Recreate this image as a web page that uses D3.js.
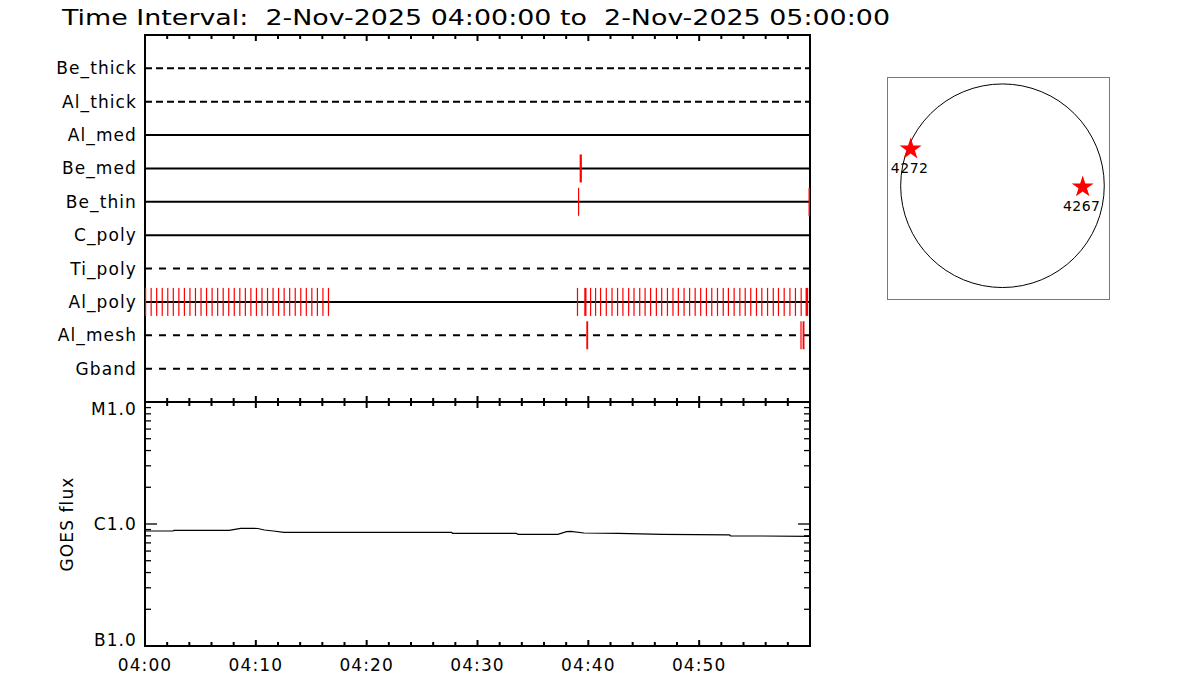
<!DOCTYPE html>
<html>
<head>
<meta charset="utf-8">
<script src="https://cdn.jsdelivr.net/npm/d3@7"></script>
<style>
  body { margin: 0; background: #fff; }
  text { font-family: "DejaVu Sans", sans-serif; fill: #000; }
</style>
</head>
<body>
<div id="vis-svg"></div>
<script>
// chart data
var titleText = "Time Interval:  2-Nov-2025 04:00:00 to  2-Nov-2025 05:00:00";
var dayStart = "2025-11-02T04:00:00Z";
var dayEnd = "2025-11-02T05:00:00Z";

var rowNames = ["Be_thick", "Al_thick", "Al_med", "Be_med", "Be_thin",
  "C_poly", "Ti_poly", "Al_poly", "Al_mesh", "Gband"];
// true = filter in use (solid line), false = dashed
var rowActive = [false, false, true, true, true, true, false, true, false, false];

// red marks per row: time and duration in seconds
var eventRows = ["Be_med", "Be_thin", "Be_thin",
  "Al_mesh", "Al_mesh", "Al_mesh"];
var eventTimes = ["04:39:13", "04:39:04", "04:59:52",
  "04:39:49", "04:59:08", "04:59:20"];
var eventDur = [12, 0, 8, 10, 0, 10];

var polyTimes = [
  "04:00:00", "04:00:30", "04:01:00", "04:01:30", "04:02:00", "04:02:30",
  "04:03:00", "04:03:30", "04:04:00", "04:04:30", "04:05:00", "04:05:30",
  "04:06:00", "04:06:30", "04:07:00", "04:07:30", "04:08:00", "04:08:30",
  "04:09:00", "04:09:30", "04:10:00", "04:10:30", "04:11:00", "04:11:30",
  "04:12:00", "04:12:30", "04:13:00", "04:13:30", "04:14:00", "04:14:30",
  "04:15:00", "04:15:30", "04:16:00", "04:16:30",
  "04:38:58", "04:39:38", "04:40:09", "04:40:36", "04:41:03", "04:41:34",
  "04:42:05", "04:42:35", "04:43:04", "04:43:35", "04:44:04", "04:44:35",
  "04:45:04", "04:45:34", "04:46:05", "04:46:34", "04:47:05", "04:47:35",
  "04:48:04", "04:48:35", "04:49:05", "04:49:35", "04:50:05", "04:50:36",
  "04:51:05", "04:51:36", "04:52:07", "04:52:35", "04:53:06", "04:53:37",
  "04:54:06", "04:54:36", "04:55:07", "04:55:36", "04:56:07", "04:56:38",
  "04:57:06", "04:57:37", "04:58:08", "04:58:38", "04:59:09", "04:59:36"];
var polyDur = [
  0, 0, 0, 0, 0, 0, 0, 0, 0, 0, 0, 0, 0, 0, 0, 0, 0, 0, 0, 0,
  0, 0, 0, 0, 0, 0, 0, 0, 0, 0, 0, 0, 0, 0,
  0, 12, 0, 0, 0, 0, 0, 0, 0, 0, 0, 0, 0, 0, 0, 0, 0, 0, 0, 0,
  0, 0, 0, 0, 0, 0, 0, 0, 0, 0, 0, 0, 0, 0, 0, 0, 0, 0, 0, 0, 0, 14];

// GOES 1-8 A flux
var goesTimes = ["04:00:00", "04:02:32", "04:02:37", "04:07:35", "04:08:38",
  "04:10:11", "04:10:47", "04:11:34", "04:12:33", "04:27:39", "04:27:45",
  "04:33:30", "04:33:39", "04:37:15", "04:38:02", "04:38:25", "04:39:36",
  "04:42:44", "04:46:39", "04:52:44", "04:52:50", "04:59:59"];
var goesFlux = [8.76e-7, 8.76e-7, 8.88e-7, 8.88e-7, 9.22e-7,
  9.19e-7, 8.93e-7, 8.76e-7, 8.55e-7, 8.55e-7, 8.39e-7,
  8.39e-7, 8.23e-7, 8.23e-7, 8.65e-7, 8.71e-7, 8.44e-7,
  8.39e-7, 8.23e-7, 8.15e-7, 8.00e-7, 7.93e-7];
var fluxTicks = [1e-7, 1e-6, 1e-5];
var fluxLabels = ["B1.0", "C1.0", "M1.0"];

// solar disk (arcsec)
var sunRadius = 968;
var regionNums = ["4272", "4267"];
var regionX = [-873, 763];
var regionY = [349, -12];

var width = 1200;
var height = 700;
var pLeft = 145, pRight = 810, pTop = 35, pMid = 402, pBottom = 646;

var svg = d3
  .select("#vis-svg")
  .append("svg")
  .attr("width", width)
  .attr("height", height);

var parseT = d3.utcParse("%Y-%m-%d %H:%M:%S");
function toDate(s) {
  return parseT("2025-11-02 " + s);
}

var x = d3.scaleUtc()
  .domain([new Date(dayStart), new Date(dayEnd)])
  .range([pLeft, pRight]);

var yRow = d3.scalePoint()
  .domain(rowNames)
  .range([pTop, pMid])
  .padding(1);

var yFlux = d3.scaleLog()
  .domain([1e-7, 1e-5])
  .range([pBottom, pMid]);

// title
svg.append("text")
  .attr("x", 62)
  .attr("y", 25)
  .attr("font-size", 22)
  .attr("textLength", 828)
  .attr("lengthAdjust", "spacingAndGlyphs")
  .style("white-space", "pre")
  .text(titleText);

// filter rows
var rows = svg.append("g").attr("class", "rows");
rows.selectAll("line")
  .data(rowNames)
  .enter()
  .append("line")
  .attr("x1", pLeft)
  .attr("x2", pRight)
  .attr("y1", function(d) { return yRow(d); })
  .attr("y2", function(d) { return yRow(d); })
  .attr("stroke", "#000")
  .attr("stroke-width", 2)
  .attr("stroke-dasharray", function(d, i) {
    if (rowActive[i]) return null;
    return i < 2 ? "7,4" : "7,7";
  });

rows.selectAll("text")
  .data(rowNames)
  .enter()
  .append("text")
  .attr("x", 137)
  .attr("y", function(d) { return yRow(d) + 6; })
  .attr("text-anchor", "end")
  .attr("font-size", 17)
  .attr("letter-spacing", 1.1)
  .text(function(d) { return d; });

// frame
var frame = svg.append("g").attr("class", "frame")
  .attr("stroke", "#000").attr("stroke-width", 2).attr("fill", "none");
frame.append("path")
  .attr("d", "M" + pLeft + "," + pBottom + "V" + pTop + "H" + pRight + "V" + pBottom + "Z");
frame.append("line")
  .attr("x1", pLeft).attr("x2", pRight).attr("y1", pMid).attr("y2", pMid);

// time ticks
var majorT = x.ticks(d3.utcMinute.every(10));
var minorT = x.ticks(d3.utcMinute.every(2));
function timeTicks(y0, dir) {
  frame.append("g").selectAll("line")
    .data(minorT)
    .enter()
    .append("line")
    .attr("x1", function(d) { return x(d); })
    .attr("x2", function(d) { return x(d); })
    .attr("y1", y0)
    .attr("y2", function(d) {
      var major = d.getUTCMinutes() % 10 === 0;
      return y0 + dir * (major ? 6 : 4);
    });
}
timeTicks(pTop, 1);
timeTicks(pMid, 1);
timeTicks(pMid, -1);
timeTicks(pBottom, -1);

svg.append("g").selectAll("text")
  .data(majorT.filter(function(d) { return +d < +x.domain()[1]; }))
  .enter()
  .append("text")
  .attr("x", function(d) { return x(d); })
  .attr("y", 671)
  .attr("text-anchor", "middle")
  .attr("font-size", 17)
  .attr("letter-spacing", 1.1)
  .text(d3.utcFormat("%H:%M"));

// flux ticks (log minor)
var fluxAll = [];
[1e-7, 1e-6].forEach(function(dec) {
  for (var k = 1; k <= 9; k++) fluxAll.push(dec * k);
});
fluxAll.push(1e-5);
function isMajor(d) {
  return fluxTicks.some(function(t) { return Math.abs(t - d) < d * 1e-6; });
}
frame.append("g").selectAll("line")
  .data(fluxAll)
  .enter()
  .append("line")
  .attr("x1", pLeft)
  .attr("x2", function(d) { return pLeft + (isMajor(d) ? 12 : 6); })
  .attr("y1", function(d) { return yFlux(d); })
  .attr("y2", function(d) { return yFlux(d); })
  .attr("stroke-width", 1.3);
frame.append("g").selectAll("line")
  .data(fluxAll)
  .enter()
  .append("line")
  .attr("x1", pRight)
  .attr("x2", function(d) { return pRight - (isMajor(d) ? 12 : 6); })
  .attr("y1", function(d) { return yFlux(d); })
  .attr("y2", function(d) { return yFlux(d); })
  .attr("stroke-width", 1.3);

svg.append("g").selectAll("text")
  .data(fluxTicks)
  .enter()
  .append("text")
  .attr("x", 137)
  .attr("y", function(d) { return Math.max(pMid + 13, Math.min(pBottom, yFlux(d) + 6)); })
  .attr("text-anchor", "end")
  .attr("font-size", 17)
  .attr("letter-spacing", 1.1)
  .text(function(d, i) { return fluxLabels[i]; });

svg.append("text")
  .attr("transform", "translate(73," + ((pMid + pBottom) / 2) + ") rotate(-90)")
  .attr("text-anchor", "middle")
  .attr("font-size", 17)
  .attr("letter-spacing", 1.1)
  .text("GOES flux");

// GOES curve
var goes = goesTimes.map(function(t, i) { return { t: toDate(t), f: goesFlux[i] }; });
svg.append("path")
  .datum(goes)
  .attr("fill", "none")
  .attr("stroke", "#000")
  .attr("stroke-width", 1.2)
  .attr("d", d3.line()
    .x(function(d) { return x(d.t); })
    .y(function(d) { return yFlux(d.f); }));

// red marks
var marks = polyTimes.map(function(t, i) {
  return { row: "Al_poly", t: toDate(t), dur: polyDur[i] };
}).concat(eventTimes.map(function(t, i) {
  return { row: eventRows[i], t: toDate(t), dur: eventDur[i] };
}));

svg.append("g").selectAll("rect")
  .data(marks)
  .enter()
  .append("rect")
  .attr("x", function(d) { return x(d.t); })
  .attr("width", function(d) {
    return Math.max(1.2, x(new Date(+d.t + d.dur * 1000)) - x(d.t));
  })
  .attr("y", function(d) { return yRow(d.row) - 14; })
  .attr("height", 28)
  .attr("fill", "#ff0000");

// solar disk panel
var sx = d3.scaleLinear().domain([-1098, 1013]).range([887, 1109]);
var sy = d3.scaleLinear().domain([1034, -1077]).range([77, 299]);

var disk = svg.append("g").attr("class", "disk");
disk.append("rect")
  .attr("x", 887.5)
  .attr("y", 77.5)
  .attr("width", 222)
  .attr("height", 222)
  .attr("fill", "none")
  .attr("stroke", "#dd33dd")
  .attr("stroke-width", 1);
disk.append("circle")
  .attr("cx", sx(0))
  .attr("cy", sy(0))
  .attr("r", sx(sunRadius) - sx(0))
  .attr("fill", "none")
  .attr("stroke", "#000")
  .attr("stroke-width", 1);

var star = d3.symbol().type(d3.symbolStar).size(150);
disk.selectAll("path.star")
  .data(regionNums)
  .enter()
  .append("path")
  .attr("class", "star")
  .attr("d", star)
  .attr("fill", "#ff0000")
  .attr("transform", function(d, i) {
    return "translate(" + sx(regionX[i]) + "," + sy(regionY[i]) + ")";
  });
disk.selectAll("text")
  .data(regionNums)
  .enter()
  .append("text")
  .attr("x", function(d, i) { return sx(regionX[i]) - 1; })
  .attr("y", function(d, i) { return sy(regionY[i]) + 24; })
  .attr("text-anchor", "middle")
  .attr("font-size", 14)
  .attr("letter-spacing", 0.5)
  .text(function(d) { return d; });
</script>
</body>
</html>
